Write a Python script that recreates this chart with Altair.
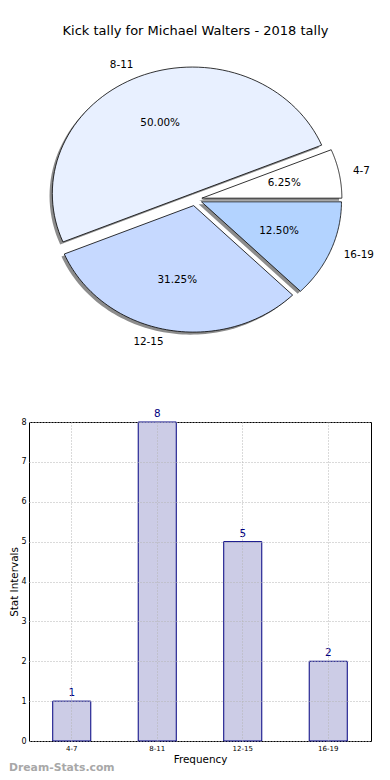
import altair as alt
import pandas as pd

# ---------------- data ----------------
labels = ["4-7", "8-11", "12-15", "16-19"]
counts = [1, 8, 5, 2]
slice_colors = ["#ffffff", "#e8f0ff", "#c6d9ff", "#b3d3ff"]
title_text = "Kick tally for Michael Walters - 2018 tally"
x_title = "Frequency"
y_title = "Stat Intervals"
y_ticks = [0, 1, 2, 3, 4, 5, 6, 7, 8]
watermark = "Dream-Stats.com"

df = pd.DataFrame({"label": labels, "count": counts, "idx": list(range(len(labels)))})

# ---------------- geometry ----------------
EXPLODE = 0.05
N = 72
PLOT_LEFT = 28          # page x of bar plot left edge
BAR_W = 370 - PLOT_LEFT
BAR_H = 319
PIE_H = 413
RX, RY = 140.0, 126.5    # pixels per unit radius
CX, CY = 194.0, 198.4    # page position of pie centre
x_dom = [-(CX - PLOT_LEFT) / RX, (PLOT_LEFT + BAR_W - CX) / RX]
y_dom = [(CY - 8 - PIE_H) / RY, (CY - 8) / RY]
FONT = "DejaVu Sans"

xs = alt.Scale(domain=x_dom, nice=False, zero=False)
ys = alt.Scale(domain=y_dom, nice=False, zero=False)


def pie_base():
    return (
        alt.Chart(df)
        .transform_joinaggregate(total="sum(count)")
        .transform_window(cum="sum(count)", sort=[alt.SortField("idx")], frame=[None, 0])
        .transform_calculate(
            a1="2*PI*(datum.cum - datum.count)/datum.total",
            a2="2*PI*datum.cum/datum.total",
        )
        .transform_calculate(mid="(datum.a1 + datum.a2)/2")
        .transform_calculate(
            ex=f"{EXPLODE}*cos(datum.mid)", ey=f"{EXPLODE}*sin(datum.mid)"
        )
    )


def wedge_points(dx=0.0, dy=0.0):
    return (
        pie_base()
        .transform_calculate(steps=f"sequence(0, {N + 3})")
        .transform_flatten(["steps"])
        .transform_calculate(ang=f"datum.a1 + (datum.a2 - datum.a1)*(datum.steps - 1)/{N}")
        .transform_calculate(
            edge=f"(datum.steps == 0 || datum.steps == {N + 2}) ? 0 : 1"
        )
        .transform_calculate(
            px=f"datum.ex + ({dx}) + datum.edge*cos(datum.ang)",
            py=f"datum.ey + ({dy}) + datum.edge*sin(datum.ang)",
        )
    )


enc_xy = dict(
    x=alt.X("px:Q", scale=xs, axis=None),
    y=alt.Y("py:Q", scale=ys, axis=None),
    order=alt.Order("steps:Q"),
    detail="label:N",
)

shadow = wedge_points(-0.02, -0.02).mark_line(
    filled=True, fill="#000000", fillOpacity=0.45
).encode(**enc_xy)

fills = wedge_points().mark_line(filled=True).encode(
    color=alt.Color("label:N", scale=alt.Scale(domain=labels, range=slice_colors), legend=None),
    **enc_xy,
)

outline = wedge_points().mark_line(
    stroke="black", strokeWidth=0.8, strokeJoin="miter"
).encode(**enc_xy)

lab_base = pie_base().transform_calculate(
    lx="datum.ex + 1.1*cos(datum.mid)",
    ly="datum.ey + 1.1*sin(datum.mid)",
    px_="datum.ex + 0.6*cos(datum.mid)",
    py_="datum.ey + 0.6*sin(datum.mid)",
    pct="format(100*datum.count/datum.total, '.2f') + '%'",
)

lab_right = lab_base.transform_filter("datum.lx <= 0").mark_text(
    align="right", baseline="middle", fontSize=10.4, font=FONT, color="black"
).encode(
    x=alt.X("lx:Q", scale=xs, axis=None),
    y=alt.Y("ly:Q", scale=ys, axis=None),
    text="label:N",
)
lab_left = lab_base.transform_filter("datum.lx > 0").mark_text(
    align="left", baseline="middle", fontSize=10.4, font=FONT, color="black"
).encode(
    x=alt.X("lx:Q", scale=xs, axis=None),
    y=alt.Y("ly:Q", scale=ys, axis=None),
    text="label:N",
)
pct = lab_base.mark_text(
    align="center", baseline="middle", fontSize=10.4, font=FONT, color="black"
).encode(
    x=alt.X("px_:Q", scale=xs, axis=None),
    y=alt.Y("py_:Q", scale=ys, axis=None),
    text="pct:N",
)

title = alt.Chart(pd.DataFrame({"t": [title_text]})).mark_text(
    align="center", baseline="middle", fontSize=13, font=FONT, color="black"
).encode(
    x=alt.value(194.5 - PLOT_LEFT),
    y=alt.value(30 - 8),
    text="t:N",
)

pie = alt.layer(shadow, fills, outline, lab_right, lab_left, pct, title).properties(
    width=BAR_W, height=PIE_H, view=alt.ViewBackground(stroke="transparent")
)

# ---------------- bar chart ----------------
grid_kw = dict(grid=True, gridDash=[1, 2], gridColor="#b4b4b4", gridWidth=1)

x_enc = alt.X(
    "label:N",
    sort=labels,
    scale=alt.Scale(paddingInner=0.555, paddingOuter=0.2775),
    axis=alt.Axis(
        title=x_title, labelAngle=0, ticks=False, domain=False, labelFontSize=7,
        labelPadding=3, titleFontSize=10.4, titlePadding=3, titleFontWeight="normal",
        labelColor="black", titleColor="black", zindex=1, **grid_kw,
    ),
)
y_enc = alt.Y(
    "count:Q",
    scale=alt.Scale(domain=[0, 8], nice=False),
    axis=alt.Axis(
        title=y_title, values=y_ticks, tickCount=9, labelOverlap=False, ticks=False,
        domain=False, labelFontSize=8, labelPadding=3, titleFontSize=10.4, titlePadding=1,
        titleFontWeight="normal", labelColor="black", titleColor="black", zindex=1,
        **grid_kw,
    ),
)

bars = alt.Chart(df).mark_bar(fill="#cccce6", stroke="#000080", strokeWidth=1).encode(
    x=x_enc, y=y_enc
)
vals = alt.Chart(df).mark_text(
    baseline="bottom", dy=-3, fontSize=10.4, font=FONT, color="#000080"
).encode(x=x_enc, y=y_enc, text="count:Q")

wm = alt.Chart(pd.DataFrame({"t": [watermark]})).mark_text(
    align="left", baseline="middle", fontSize=10.8, fontWeight="bold", font=FONT, color="#a8a8a8"
).encode(x=alt.value(8 - PLOT_LEFT), y=alt.value(BAR_H + 27), text="t:N")

bar = alt.layer(bars, vals, wm).properties(
    width=BAR_W, height=BAR_H, view=alt.ViewBackground(stroke="black", strokeWidth=1)
)

chart = alt.vconcat(pie, bar, spacing=0, bounds="flush").properties(
    padding={"left": 0, "top": 0, "right": 0, "bottom": 0}
).configure(font=FONT)

chart.save("out.html", embed_options={"renderer": "svg", "actions": False})
